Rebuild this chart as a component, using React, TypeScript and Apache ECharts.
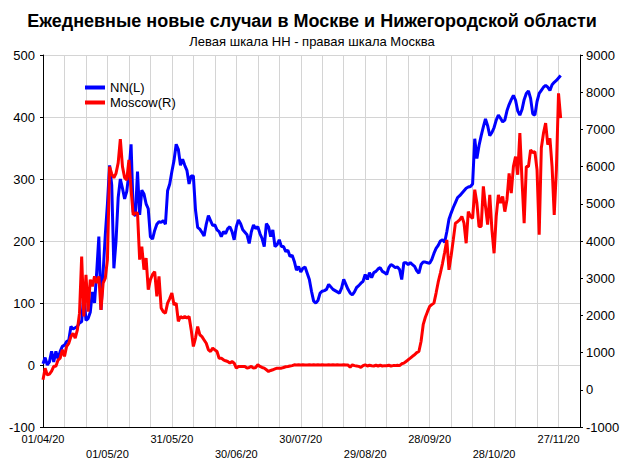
import React, { useEffect, useRef } from "react";
import * as echarts from "echarts";

const TITLE = "Ежедневные новые случаи в Москве и Нижегородской области";
const SUBTITLE = "Левая шкала НН - правая шкала Москва";
const SERIES_NAMES = ["NN(L)", "Moscow(R)"];

// tick labels every 30 days starting 01/04/20 (day 0)
const xTickLabels = [
  "01/04/20", "01/05/20", "31/05/20", "30/06/20", "30/07/20",
  "29/08/20", "28/09/20", "28/10/20", "27/11/20",
];

// daily new cases, Nizhny Novgorod region (left axis), day 0 = 01/04/20
const nnValues = [
  2, 12, 0, 5, 22, 5, 22, 10, 22, 30,
  32, 38, 40, 62, 58, 60, 62, 68, 70, 115,
  72, 75, 85, 118, 100, 150, 207, 89, 150, 210,
  260, 322, 290, 156, 200, 270, 300, 285, 268, 280,
  310, 356, 247, 240, 312, 242, 282, 276, 260, 252,
  207, 203, 217, 227, 231, 230, 233, 227, 281, 292,
  312, 330, 356, 348, 322, 332, 322, 314, 292, 305,
  305, 250, 222, 219, 214, 208, 227, 241, 233, 225,
  226, 218, 215, 207, 215, 212, 220, 223, 215, 202,
  223, 234, 228, 218, 214, 210, 196, 215, 226, 220,
  223, 212, 204, 191, 228, 223, 207, 218, 191, 194,
  202, 191, 191, 183, 185, 175, 177, 167, 153, 159,
  150, 156, 158, 148, 138, 119, 103, 100, 104, 116,
  119, 120, 122, 130, 126, 122, 120, 118, 116, 124,
  138, 130, 122, 116, 113, 118, 125, 128, 132, 135,
  146, 138, 149, 141, 149, 151, 155, 157, 151, 149,
  146, 157, 162, 160, 157, 158, 154, 138, 165, 165,
  162, 165, 162, 159, 152, 148, 162, 166, 166, 165,
  164, 170, 180, 188, 193, 200, 202, 198, 215, 235,
  245, 254, 262, 270, 273, 277, 281, 285, 287, 288,
  292, 365, 333, 354, 370, 384, 397, 386, 370, 375,
  383, 395, 403, 398, 392, 395, 410, 420, 428, 435,
  427, 410, 403, 412, 428, 438, 442, 430, 405, 403,
  425, 438, 443, 448, 451, 448, 443, 452, 456, 459,
  463, 467,
];

// daily new cases, Moscow (right axis)
const moscowValues = [
  270, 580, 400, 420, 500, 630, 630, 800, 850, 1075,
  900, 1165, 1250, 1430, 1520, 1390, 1610, 2060, 3580, 1970,
  3090, 2100, 2960, 2780, 3050, 2870, 3050, 2150, 2870, 3000,
  3500, 6000, 5800, 5700, 5820, 6100, 6740, 6000, 5700, 5640,
  6180, 5380, 4700, 4750, 4750, 3500, 3850, 3230, 3540, 2690,
  2960, 3100, 3180, 2510, 3050, 2200, 2100, 2060, 2330, 2450,
  2600, 2280, 2330, 1840, 1970, 1930, 1970, 1930, 1970, 1610,
  1165, 1390, 1700, 1480, 1430, 1340, 1250, 1075, 1030, 1120,
  1075, 1030, 850, 850, 806, 780, 760, 717, 760, 717,
  582, 627, 627, 627, 627, 582, 600, 627, 582, 600,
  672, 627, 600, 582, 538, 493, 520, 538, 560, 582,
  582, 582, 600, 620, 627, 640, 650, 672, 670, 672,
  668, 672, 670, 665, 672, 670, 672, 668, 672, 670,
  672, 665, 670, 672, 668, 672, 670, 672, 670, 668,
  672, 670, 665, 610, 672, 650, 640, 630, 600, 650,
  672, 640, 660, 645, 640, 660, 640, 660, 640, 650,
  645, 660, 640, 650, 650, 660, 650, 700, 717, 760,
  806, 850, 900, 940, 1000, 1030, 1300, 1750, 1950, 2100,
  2240, 2290, 2330, 2600, 2900, 3140, 3400, 3700, 4030, 3225,
  3600, 4030, 4480, 4520, 4570, 4660, 4480, 3940, 4790, 4660,
  4610, 5380, 5020, 4390, 4390, 5470, 4930, 4440, 5240, 4300,
  3670, 4660, 5240, 5020, 5200, 4790, 5110, 5820, 5290, 6000,
  6270, 5780, 6900, 5640, 4480, 6000, 6000, 6450, 6380, 6400,
  5910, 4170, 6500, 6900, 7170, 6590, 6760, 6000, 4700, 5910,
  7970, 7300,
];

const FONT = "'Liberation Sans', Arial, sans-serif";

export default function App() {
  const ref = useRef<HTMLDivElement>(null);

  useEffect(() => {
    if (!ref.current) return;
    const chart = echarts.init(ref.current, undefined, { renderer: "svg" });
    const axisLineStyle = { color: "#000", width: 1 };
    chart.setOption({
      animation: false,
      backgroundColor: "#fff",
      textStyle: { fontFamily: FONT },
      title: {
        text: TITLE,
        subtext: SUBTITLE,
        left: "center",
        top: 7,
        itemGap: 5,
        textStyle: { fontFamily: FONT, fontSize: 18, fontWeight: "bold", color: "#000" },
        subtextStyle: { fontFamily: FONT, fontSize: 13, color: "#000" },
      },
      legend: {
        orient: "vertical",
        left: 80,
        top: 76,
        itemGap: 2,
        itemWidth: 20,
        itemHeight: 4,
        icon: "rect",
        data: SERIES_NAMES,
        textStyle: { fontFamily: FONT, fontSize: 13, color: "#000", padding: [0, 0, 0, 0] },
      },
      grid: { left: 43, top: 55, width: 537, height: 372, containLabel: false },
      xAxis: {
        type: "value",
        min: 0,
        max: 250,
        interval: 10,
        axisLine: { show: true, onZero: false, lineStyle: axisLineStyle },
        axisTick: { show: false },
        splitLine: { show: true, lineStyle: { color: "#d4d4d4", width: 1 } },
        axisLabel: {
          color: "#000",
          fontFamily: FONT,
          fontSize: 11,
          lineHeight: 15,
          margin: 4,
          showMaxLabel: true,
          formatter: (v: number) => {
            if (v % 30 !== 0) return "";
            const i = v / 30;
            const s = xTickLabels[i];
            if (!s) return "";
            return i % 2 === 1 ? "\n" + s : s;
          },
        },
      },
      yAxis: [
        {
          type: "value",
          min: -100,
          max: 500,
          interval: 100,
          axisLine: { show: true, onZero: false, lineStyle: axisLineStyle },
          axisTick: { show: true, length: 3, lineStyle: axisLineStyle },
          splitLine: { show: true, lineStyle: { color: "#d4d4d4", width: 1 } },
          axisLabel: {
            color: "#000",
            fontFamily: FONT,
            fontSize: 13,
            margin: 8,
            formatter: (v: number) => String(v),
          },
        },
        {
          type: "value",
          min: -1000,
          max: 9000,
          interval: 1000,
          position: "right",
          axisLine: { show: true, onZero: false, lineStyle: axisLineStyle },
          axisTick: { show: true, length: 3, lineStyle: axisLineStyle },
          splitLine: { show: false },
          axisLabel: {
            color: "#000",
            fontFamily: FONT,
            fontSize: 13,
            margin: 6,
            formatter: (v: number) => String(v),
          },
        },
      ],
      series: [
        {
          name: SERIES_NAMES[0],
          type: "line",
          yAxisIndex: 0,
          showSymbol: false,
          symbol: "none",
          color: "#0000ff",
          lineStyle: { color: "#0000ff", width: 3 },
          data: nnValues.map((v, i) => [i, v]),
          z: 3,
        },
        {
          name: SERIES_NAMES[1],
          type: "line",
          yAxisIndex: 1,
          showSymbol: false,
          symbol: "none",
          color: "#ff0000",
          lineStyle: { color: "#ff0000", width: 3 },
          data: moscowValues.map((v, i) => [i, v]),
          z: 4,
        },
      ],
    });
    return () => chart.dispose();
  }, []);

  return (
    <div
      ref={ref}
      style={{ position: "absolute", left: 0, top: 0, width: 624, height: 468 }}
    />
  );
}
